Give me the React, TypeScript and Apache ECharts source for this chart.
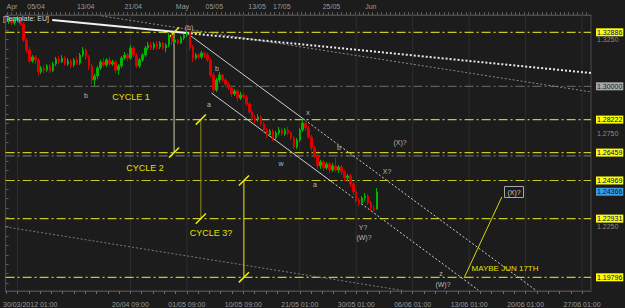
import React, { useEffect, useRef } from "react";
import * as echarts from "echarts";

// ---- data ----
// candles: [open, close, low, high], one per bar starting at bar 1
const candles: number[][] = [
  [1.3344, 1.3360, 1.3333, 1.3370], [1.3360, 1.3338, 1.3327, 1.3365], [1.3338, 1.3354, 1.3327, 1.3365],
  [1.3354, 1.3365, 1.3344, 1.3376], [1.3365, 1.3333, 1.3322, 1.3370], [1.3333, 1.3247, 1.3237, 1.3344],
  [1.3247, 1.3194, 1.3178, 1.3258], [1.3194, 1.3135, 1.3125, 1.3210], [1.3135, 1.3157, 1.3125, 1.3167],
  [1.3157, 1.3141, 1.3119, 1.3167], [1.3141, 1.3077, 1.3055, 1.3151], [1.3077, 1.3098, 1.3066, 1.3109],
  [1.3098, 1.3087, 1.3071, 1.3114], [1.3087, 1.3109, 1.3077, 1.3119], [1.3109, 1.3082, 1.3071, 1.3119],
  [1.3082, 1.3119, 1.3077, 1.3130], [1.3119, 1.3146, 1.3109, 1.3157], [1.3146, 1.3130, 1.3119, 1.3162],
  [1.3130, 1.3151, 1.3125, 1.3167], [1.3151, 1.3119, 1.3109, 1.3162], [1.3119, 1.3135, 1.3109, 1.3151],
  [1.3135, 1.3114, 1.3098, 1.3146], [1.3114, 1.3141, 1.3103, 1.3151], [1.3141, 1.3125, 1.3114, 1.3157],
  [1.3125, 1.3167, 1.3114, 1.3178], [1.3167, 1.3194, 1.3157, 1.3210], [1.3194, 1.3157, 1.3141, 1.3205],
  [1.3157, 1.3109, 1.3087, 1.3167], [1.3109, 1.3034, 1.3012, 1.3119], [1.3034, 1.3055, 1.3002, 1.3066],
  [1.3055, 1.3098, 1.3039, 1.3109], [1.3098, 1.3130, 1.3087, 1.3141], [1.3130, 1.3114, 1.3103, 1.3151],
  [1.3114, 1.3141, 1.3103, 1.3151], [1.3141, 1.3119, 1.3109, 1.3157], [1.3119, 1.3130, 1.3109, 1.3141],
  [1.3130, 1.3087, 1.3071, 1.3141], [1.3087, 1.3109, 1.3061, 1.3119], [1.3109, 1.3151, 1.3098, 1.3162],
  [1.3151, 1.3167, 1.3141, 1.3183], [1.3167, 1.3151, 1.3135, 1.3178], [1.3151, 1.3205, 1.3141, 1.3221],
  [1.3205, 1.3167, 1.3157, 1.3215], [1.3167, 1.3109, 1.3098, 1.3178], [1.3109, 1.3141, 1.3098, 1.3151],
  [1.3141, 1.3167, 1.3130, 1.3178], [1.3167, 1.3205, 1.3157, 1.3215], [1.3205, 1.3221, 1.3194, 1.3237],
  [1.3221, 1.3205, 1.3194, 1.3237], [1.3205, 1.3226, 1.3194, 1.3237], [1.3226, 1.3210, 1.3199, 1.3242],
  [1.3210, 1.3231, 1.3199, 1.3242], [1.3231, 1.3205, 1.3194, 1.3237], [1.3205, 1.3221, 1.3183, 1.3231],
  [1.3221, 1.3269, 1.3210, 1.3285], [1.3269, 1.3237, 1.3221, 1.3279], [1.3237, 1.3247, 1.3226, 1.3258],
  [1.3247, 1.3231, 1.3221, 1.3253], [1.3231, 1.3258, 1.3226, 1.3269], [1.3258, 1.3274, 1.3247, 1.3279],
  [1.3274, 1.3285, 1.3263, 1.3290], [1.3285, 1.3210, 1.3194, 1.3290], [1.3210, 1.3151, 1.3130, 1.3221],
  [1.3151, 1.3167, 1.3141, 1.3178], [1.3167, 1.3157, 1.3146, 1.3178], [1.3157, 1.3178, 1.3146, 1.3189],
  [1.3178, 1.3167, 1.3151, 1.3183], [1.3167, 1.3141, 1.3130, 1.3178], [1.3141, 1.3061, 1.3045, 1.3151],
  [1.3061, 1.2980, 1.2964, 1.3077], [1.2980, 1.3034, 1.2970, 1.3045], [1.3034, 1.3061, 1.3018, 1.3077],
  [1.3061, 1.3034, 1.3023, 1.3066], [1.3034, 1.3012, 1.2996, 1.3045], [1.3012, 1.2991, 1.2980, 1.3023],
  [1.2991, 1.2959, 1.2943, 1.3002], [1.2959, 1.2975, 1.2948, 1.2986], [1.2975, 1.2938, 1.2922, 1.2986],
  [1.2938, 1.2954, 1.2927, 1.2970], [1.2954, 1.2943, 1.2932, 1.2964], [1.2943, 1.2906, 1.2895, 1.2954],
  [1.2906, 1.2863, 1.2852, 1.2916], [1.2863, 1.2831, 1.2815, 1.2874], [1.2831, 1.2820, 1.2804, 1.2847],
  [1.2820, 1.2836, 1.2810, 1.2852], [1.2836, 1.2799, 1.2788, 1.2847], [1.2799, 1.2767, 1.2751, 1.2810],
  [1.2767, 1.2740, 1.2724, 1.2778], [1.2740, 1.2761, 1.2729, 1.2772], [1.2761, 1.2724, 1.2708, 1.2772],
  [1.2724, 1.2751, 1.2713, 1.2761], [1.2751, 1.2767, 1.2740, 1.2783], [1.2767, 1.2745, 1.2735, 1.2778],
  [1.2745, 1.2767, 1.2735, 1.2778], [1.2767, 1.2751, 1.2740, 1.2783], [1.2751, 1.2724, 1.2713, 1.2761],
  [1.2724, 1.2676, 1.2665, 1.2735], [1.2676, 1.2713, 1.2665, 1.2724], [1.2713, 1.2767, 1.2703, 1.2778],
  [1.2767, 1.2804, 1.2756, 1.2826], [1.2804, 1.2778, 1.2761, 1.2820], [1.2778, 1.2729, 1.2719, 1.2788],
  [1.2729, 1.2671, 1.2655, 1.2740], [1.2671, 1.2628, 1.2617, 1.2681], [1.2628, 1.2575, 1.2559, 1.2639],
  [1.2575, 1.2596, 1.2559, 1.2607], [1.2596, 1.2564, 1.2548, 1.2607], [1.2564, 1.2585, 1.2553, 1.2596],
  [1.2585, 1.2553, 1.2537, 1.2596], [1.2553, 1.2575, 1.2543, 1.2591], [1.2575, 1.2553, 1.2543, 1.2617],
  [1.2553, 1.2569, 1.2537, 1.2580], [1.2569, 1.2543, 1.2527, 1.2580], [1.2543, 1.2511, 1.2494, 1.2553],
  [1.2511, 1.2521, 1.2494, 1.2532], [1.2521, 1.2478, 1.2462, 1.2532], [1.2478, 1.2436, 1.2420, 1.2489],
  [1.2436, 1.2393, 1.2377, 1.2446], [1.2393, 1.2377, 1.2361, 1.2404], [1.2377, 1.2404, 1.2366, 1.2414],
  [1.2404, 1.2414, 1.2388, 1.2430], [1.2414, 1.2377, 1.2366, 1.2425], [1.2377, 1.2350, 1.2334, 1.2388],
  [1.2350, 1.2345, 1.2329, 1.2366], [1.2345, 1.2436, 1.2340, 1.2457],
];
const firstBar = 1;

const bottomLabels = ["30/03/2012 01:00", "20/04 09:00", "01/05 09:00", "10/05 09:00", "21/05 01:00", "30/05 01:00", "06/06 01:00", "13/06 01:00", "20/06 01:00", "27/06 01:00"];
const bottomLabelBars = [8.3, 42, 61, 80, 99, 118, 137, 156, 175, 194];
const gridBars = [4, 42, 61, 80, 99, 118, 137, 156, 175, 194];
const topLabels = ["Apr", "05/04", "13/04", "21/04", "May", "05/05", "13/05", "17/05", "25/05", "Jun"];
const topLabelBars = [0.3, 7.3, 24, 40, 57.3, 67.3, 81.7, 90, 106.7, 121];

const yellowLevels = [1.32886, 1.28222, 1.26459, 1.24969, 1.22931, 1.19796];
const grayLevel = 1.3;
const grayLevel2 = 1.2628;
const askPrice = 1.24366;
const priceTickLabels = [1.225, 1.275, 1.325];

const whiteTrend = [[15.7, 1.3354], [61, 1.3285]];
const whiteTrendExt = [[61, 1.3285], [197, 1.3071]];
const grayTrend = [[32.3, 1.3376], [197, 1.297]];
const lowerTrend = [[0, 1.2249], [133.3, 1.191]];
const channelUpper = [[61, 1.3285], [100.7, 1.282]];
const channelUpperExt = [[100.7, 1.282], [178.3, 1.1912]];
const channelLower = [[69.3, 1.2964], [110, 1.2487]];
const channelLowerExt = [[110, 1.2487], [159, 1.1912]];
const maybeLine = [[154.3, 1.1977], [167, 1.2409]];
const cycleBars = [56.7, 65.7, 80.2];
const cycleTops = [1.32886, 1.28222, 1.24969];
const cycleBottoms = [1.26459, 1.22931, 1.19796];

const BG = "#1c1c1c";
const YEL = "#c8c81e";
const FONT = "Liberation Sans";

function lineSeries(data: number[][], color: string, width: number, type: any, z = 3, extra: any = {}) {
  return {
    type: "line", data, symbol: "none", silent: true, z, clip: false,
    lineStyle: { color, width, type }, animation: false, ...extra,
  };
}

export default function App() {
  const ref = useRef<HTMLDivElement>(null);
  useEffect(() => {
    document.body.style.margin = "0";
    document.body.style.background = BG;
    const chart = echarts.init(ref.current!, null, { renderer: "svg" });
    const xMax = 197;
    const yMin = 1.19064, yMax = 1.3381;

    const bottomTicks: number[] = [];
    for (let v = 0.2; v < xMax; v += 3.8) bottomTicks.push(+v.toFixed(2));
    const topTicks: number[] = [];
    for (let v = 0.5; v < xMax; v += 1.5) topTicks.push(+v.toFixed(2));
    const yTicks: number[] = [];
    for (let p = 1.195; p < yMax; p += 0.005) yTicks.push(+p.toFixed(3));

    const endLabel = (bg: string, fg: string, txt: string) => ({
      endLabel: {
        show: true, distance: 5, formatter: txt, align: "left", verticalAlign: "middle",
        backgroundColor: bg, color: fg, fontSize: 7, fontFamily: FONT, padding: [1, 1, 0, 1],
      },
    });
    const DASHDOT = [9, 3, 2, 3];
    const levelSeries: any[] = [];
    levelSeries.push(lineSeries([[0, grayLevel2], [xMax, grayLevel2]], "#6a6a6a", 1.2, DASHDOT, 2));
    levelSeries.push(lineSeries([[0, grayLevel], [xMax, grayLevel]], "#707070", 1, DASHDOT, 2, endLabel("#a8a8a8", "#202020", grayLevel.toFixed(5))));
    yellowLevels.forEach((l) => levelSeries.push(
      lineSeries([[0, l], [xMax, l]], YEL, 1.2, DASHDOT, 2, endLabel("#ffff00", "#000080", l.toFixed(5)))
    ));
    levelSeries.push({
      ...lineSeries([[0, askPrice], [xMax, askPrice]], "#3d9be0", 1, "solid", 2, endLabel("#3d9be0", "#001040", askPrice.toFixed(5))),
      lineStyle: { opacity: 0 },
    });

    const gridSeries = gridBars.map((b) => lineSeries([[b, yMin], [b, yMax]], "#2e2e2e", 1, "solid", 1));

    const slash = (v: number, p: number) => [[v - 1.7, p - 0.0027], [v + 1.7, p + 0.0027]];
    const cycleColors = ["#d0d0b0", "#8c8c1e", "#e6e600"];
    const cycleSeries: any[] = [];
    cycleBars.forEach((b, i) => {
      cycleSeries.push(lineSeries([[b, cycleTops[i]], [b, cycleBottoms[i]]], cycleColors[i], 1, "solid", 4));
      cycleSeries.push(lineSeries(slash(b, cycleTops[i]), "#f0f000", 1.5, "solid", 4));
      cycleSeries.push(lineSeries(slash(b, cycleBottoms[i]), "#f0f000", 1.5, "solid", 4));
    });

    const axisFont = { color: "#9a9a9a", fontSize: 7, fontFamily: FONT };
    const t = (text: string, x: number, y: number, fill = "#b8b8b8", fontSize = 7, align = "center") => ({
      type: "text", x, y, z: 10,
      style: { text, fill, fontSize, fontFamily: FONT, align, verticalAlign: "middle" },
    });

    chart.setOption({
      animation: false,
      backgroundColor: BG,
      grid: { left: 0, right: 34, top: 15, bottom: 17, show: true, borderColor: "#4a4a4a", borderWidth: 1, backgroundColor: BG },
      xAxis: [
        {
          type: "value", min: 0, max: xMax, position: "bottom",
          axisLine: { show: true, lineStyle: { color: "#4a4a4a" } },
          axisTick: { show: true, customValues: bottomTicks, length: 3, lineStyle: { color: "#6a6a6a" } },
          axisLabel: {
            ...axisFont, customValues: bottomLabelBars, margin: 10,
            formatter: (v: number) => bottomLabels[bottomLabelBars.findIndex((b) => Math.abs(b - v) < 0.01)] ?? "",
          },
          splitLine: { show: false },
        },
        {
          type: "value", min: 0, max: xMax, position: "top",
          axisLine: { show: true, lineStyle: { color: "#4a4a4a" } },
          axisTick: { show: true, customValues: topTicks, length: 3, lineStyle: { color: "#5a5a5a" } },
          axisLabel: {
            ...axisFont, customValues: topLabelBars, margin: 5, align: "left",
            formatter: (v: number) => topLabels[topLabelBars.findIndex((b) => Math.abs(b - v) < 0.01)] ?? "",
          },
          splitLine: { show: false },
        },
      ],
      yAxis: {
        type: "value", min: yMin, max: yMax, position: "right",
        axisLine: { show: true, lineStyle: { color: "#4a4a4a" } },
        axisTick: { show: true, customValues: yTicks, length: 3, lineStyle: { color: "#5a5a5a" } },
        axisLabel: { ...axisFont, color: "#8a8a8a", customValues: priceTickLabels, margin: 6, formatter: (v: number) => v.toFixed(4) },
        splitLine: { show: false },
      },
      series: [
        ...gridSeries,
        ...levelSeries,
        lineSeries(lowerTrend, "#7a7a7a", 1, [2, 2]),
        lineSeries(grayTrend, "#8a8a8a", 1, [2, 2]),
        lineSeries(whiteTrend, "#f0f0f0", 2, "solid"),
        lineSeries(whiteTrendExt, "#e8e8e8", 2, [2, 2]),
        lineSeries(channelUpper, "#cfcfcf", 1, "solid"),
        lineSeries(channelUpperExt, "#cfcfcf", 1, [2, 2]),
        lineSeries(channelLower, "#cfcfcf", 1, "solid"),
        lineSeries(channelLowerExt, "#cfcfcf", 1, [2, 2]),
        lineSeries(maybeLine, "#d8d800", 1, "solid"),
        ...cycleSeries,
        {
          type: "candlestick", z: 5,
          data: candles.map((c, i) => [firstBar + i, ...c]),
          encode: { x: 0, y: [1, 2, 3, 4] },
          barWidth: 2,
          itemStyle: { color: "#00b400", color0: "#dc0000", borderColor: "#00b400", borderColor0: "#dc0000", borderWidth: 1 },
        },
      ],
      graphic: [
        t("[Template: EU]", 3, 18, "#d8d8d8", 7, "left"),
        t("(b)", 189, 27),
        t("b", 86, 95),
        t("CYCLE 1", 131, 97, "#e0e000", 9),
        t("b", 217, 68),
        t("a", 209, 104),
        t("x", 308, 112),
        t("b", 339, 147),
        t("w", 281, 163),
        t("a", 315, 184),
        t("(X)?", 400, 142),
        t("X?", 387, 171),
        t("CYCLE 2", 145, 168, "#e0e000", 9),
        t("CYCLE 3?", 211, 233, "#e0e000", 9),
        t("Y?", 363, 227),
        t("(W)?", 364, 237),
        t("z", 441, 273),
        t("(W)?", 443, 284),
        t("MAYBE JUN 17TH", 505, 268, "#e0e000", 8),
        { type: "rect", z: 10, shape: { x: 504.5, y: 186.5, width: 19, height: 11 }, style: { fill: BG, stroke: "#a8a8a8", lineWidth: 1 } },
        t("(X)?", 514, 192, "#c8c8c8", 7),
      ],
    });
    return () => chart.dispose();
  }, []);
  return <div ref={ref} style={{ width: 625, height: 308, background: BG }} />;
}
